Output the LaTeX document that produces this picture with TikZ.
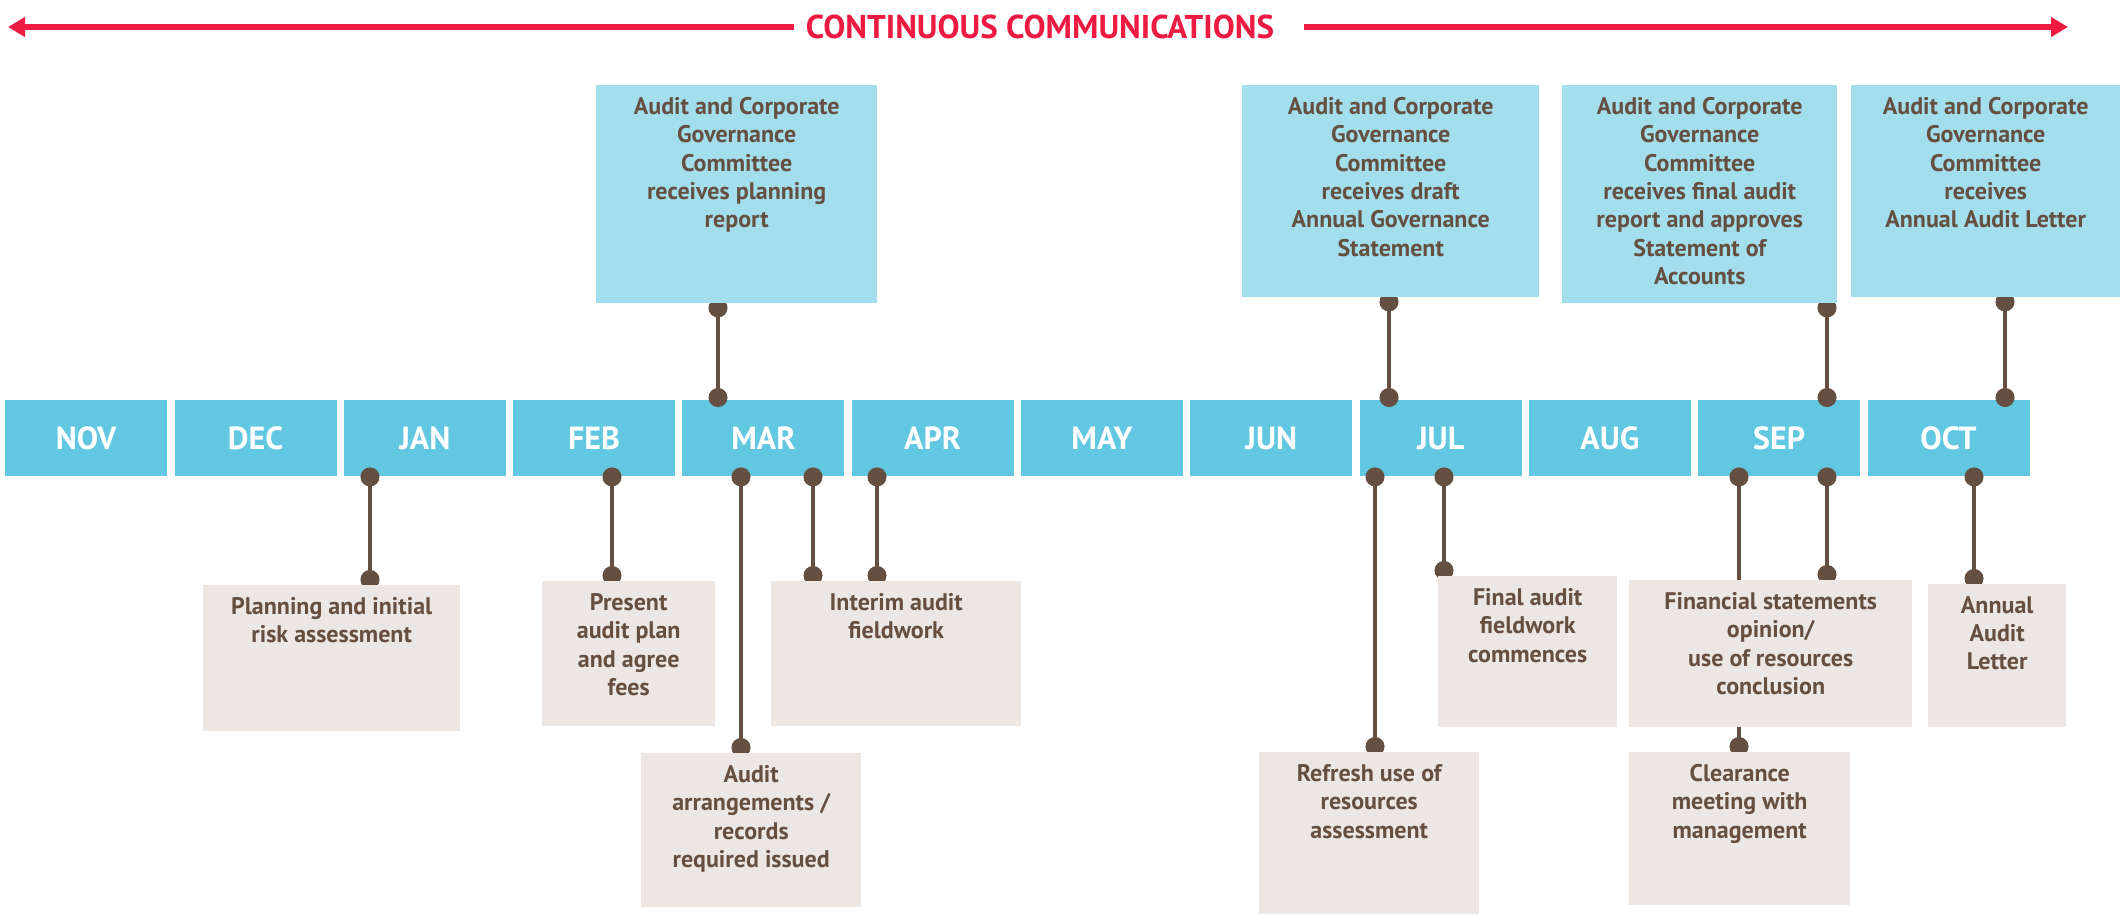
\documentclass[tikz,border=0pt]{standalone}
\usepackage{fontspec}
\setmainfont{PT Sans}
\usetikzlibrary{arrows.meta}
\pgfdeclarelayer{back}
\pgfsetlayers{back,main}
\definecolor{barblue}{RGB}{98,200,226}
\definecolor{commblue}{RGB}{163,222,237}
\definecolor{taskgrey}{RGB}{236,231,227}
\definecolor{linkbrown}{RGB}{101,79,64}
\definecolor{commred}{RGB}{237,27,66}
% text of a box, set from its top edge
\newcommand\evbox[3]{\parbox[c][#2pt][t]{#1pt}{\vspace*{12pt}\centering #3}}
\begin{document}
\begin{tikzpicture}[x=1pt,y=-1pt,
  month/.style={fill=barblue,text=white,font=\fontsize{32}{36}\selectfont\bfseries,
    minimum width=162pt,minimum height=76pt,inner sep=0pt,anchor=north west},
  comm/.style={fill=commblue,text=linkbrown,font=\fontsize{24}{28.4}\selectfont\bfseries,
    inner sep=0pt,anchor=north west},
  task/.style={fill=taskgrey,text=linkbrown,font=\fontsize{24}{28.4}\selectfont\bfseries,
    inner sep=0pt,anchor=north west},
  uplink/.style={draw=linkbrown,line width=4pt,{Circle[length=19pt]}-{Circle[length=19pt]},
    shorten <=-5pt,shorten >=-7pt},
  downlink/.style={draw=linkbrown,line width=4pt,{Circle[length=19pt]}-{Circle[length=19pt]},
    shorten <=-9pt,shorten >=-4pt},
  redline/.style={draw=commred,line width=6pt,-{Triangle[length=17pt,width=19pt]}}]
\useasboundingbox (0,0) rectangle (2120,914);

% continuous communications
\node[text=commred,font=\fontsize{33}{36}\selectfont\bfseries,inner sep=0pt] (comms) at (1040,27)
  {CONTINUOUS COMMUNICATIONS};
\coordinate (lend) at (8,27);
\coordinate (rend) at (2068,27);
\draw[redline] ([xshift=-12pt]comms.west) -- (lend);
\draw[redline] ([xshift=30pt]comms.east) -- (rend);

% months
\begin{pgfonlayer}{back}
\foreach \m/\n [count=\i from 0] in {NOV/nov,DEC/dec,JAN/jan,FEB/feb,MAR/mar,APR/apr,
    MAY/may,JUN/jun,JUL/jul,AUG/aug,SEP/sep,OCT/oct}
  \node[month,text depth=-2pt] (\n) at ({5+\i*169.3},400) {\m};
\end{pgfonlayer}

% committee
\node[comm] (acgc1) at (596,85) {\evbox{281}{218}{Audit and Corporate\\Governance\\Committee\\receives planning\\report}};
\node[comm] (acgc2) at (1242,85) {\evbox{297}{212}{Audit and Corporate\\Governance\\Committee\\receives draft\\Annual Governance\\Statement}};
\node[comm] (acgc3) at (1562,85) {\evbox{275}{218}{Audit and Corporate\\Governance\\Committee\\receives final audit\\report and approves\\Statement of\\Accounts}};
\node[comm] (acgc4) at (1851,85) {\evbox{269}{212}{Audit and Corporate\\Governance\\Committee\\receives\\Annual Audit Letter}};

% audit work
\node[task] (plan) at (203,585) {\evbox{257}{146}{Planning and initial\\risk assessment}};
\node[task] (present) at (542,581) {\evbox{173}{145}{Present\\audit plan\\and agree\\fees}};
\node[task] (interim) at (771,581) {\evbox{250}{145}{Interim audit\\fieldwork}};
\node[task] (arrange) at (641,753) {\evbox{220}{154}{Audit\\arrangements /\\records\\required issued}};
\node[task] (refresh) at (1259,752) {\evbox{220}{162}{Refresh use of\\resources\\assessment}};
\node[task] (final) at (1438,576) {\evbox{179}{151}{Final audit\\fieldwork\\commences}};
\node[task] (opinion) at (1629,580) {\evbox{283}{147}{Financial statements\\opinion/\\use of resources\\conclusion}};
\node[task] (clear) at (1629,752) {\evbox{221}{153}{Clearance\\meeting with\\management}};
\node[task] (letter) at (1928,584) {\evbox{138}{143}{Annual\\Audit\\Letter}};

% links
\begin{pgfonlayer}{back}
\draw[uplink] (acgc1.south -| 718,0) -- (mar.north -| 718,0);
\draw[uplink] (acgc2.south -| 1389,0) -- (jul.north -| 1389,0);
\draw[uplink] (acgc3.south -| 1827,0) -- (sep.north -| 1827,0);
\draw[uplink] (acgc4.south -| 2005,0) -- (oct.north -| 2005,0);
\draw[downlink] (jan.south -| 370,0) -- (plan.north -| 370,0);
\draw[downlink] (feb.south -| 612,0) -- (present.north -| 612,0);
\draw[downlink] (mar.south -| 741,0) -- (arrange.north -| 741,0);
\draw[downlink] (mar.south -| 813,0) -- (interim.north -| 813,0);
\draw[downlink] (apr.south -| 877,0) -- (interim.north -| 877,0);
\draw[downlink] (jul.south -| 1375,0) -- (refresh.north -| 1375,0);
\draw[downlink] (jul.south -| 1444,0) -- (final.north -| 1444,0);
\draw[downlink] (sep.south -| 1739,0) -- (clear.north -| 1739,0);
\draw[downlink] (sep.south -| 1827,0) -- (opinion.north -| 1827,0);
\draw[downlink] (oct.south -| 1974,0) -- (letter.north -| 1974,0);
\end{pgfonlayer}
\end{tikzpicture}
\end{document}
